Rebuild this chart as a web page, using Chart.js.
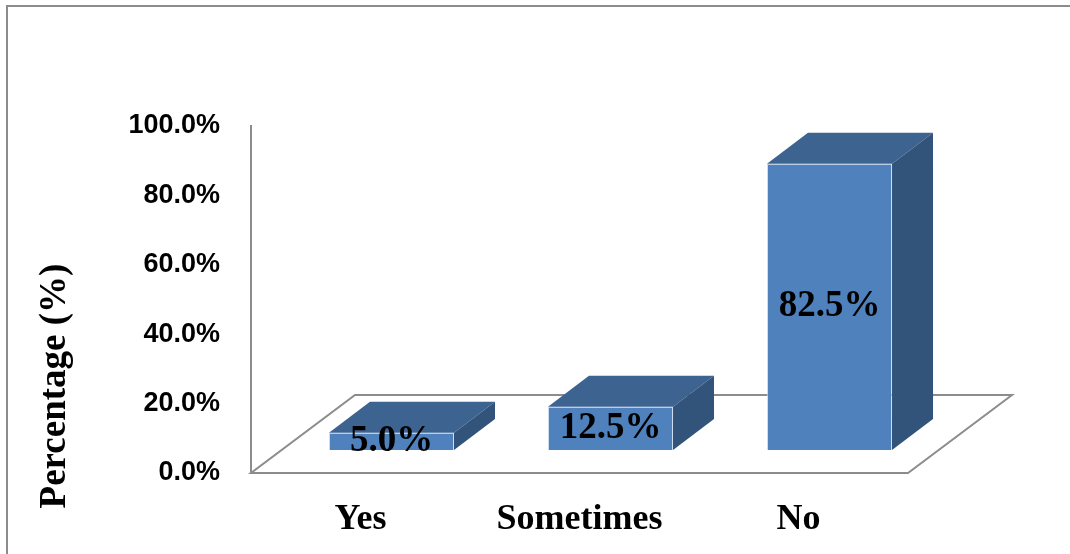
<!DOCTYPE html>
<html>
<head>
<meta charset="utf-8">
<script src="https://cdn.jsdelivr.net/npm/chart.js@4.4.1/dist/chart.umd.min.js"></script>
<style>
  html, body { margin: 0; padding: 0; background: #fff; overflow: hidden; }
  #wrap { position: relative; width: 1070px; height: 554px; }
</style>
</head>
<body>
<div id="wrap"><canvas id="answers-chart"></canvas></div>
<script>
// Survey answers
const categories = ["Yes", "Sometimes", "No"];
const percentages = [5.0, 12.5, 82.5];
const yTickValues = [0, 20, 40, 60, 80, 100];

// Colours for the three faces of each box
const frontColor = "#4F81BD";
const topColor = "#3D6390";
const sideColor = "#32547A";
const lineGray = "#8c8c8c";

// Fake 3D offsets (floor depth, bar position on the floor, bar depth)
const floorDepth = { dx: 104, dy: -78 };
const barShift = { dx: 31, dy: -23 };
const barDepth = { dx: 41, dy: -31 };

const serifBold = { family: "'Liberation Serif', 'Times New Roman', serif", weight: "bold" };

const box3d = {
  id: "box3d",
  beforeDraw(chart) {
    // outer frame, only top and left edges show
    const ctx = chart.ctx;
    ctx.save();
    ctx.strokeStyle = lineGray;
    ctx.lineWidth = 2;
    ctx.beginPath();
    ctx.moveTo(7, chart.height);
    ctx.lineTo(7, 6);
    ctx.lineTo(chart.width, 6);
    ctx.stroke();
    ctx.restore();
  },
  beforeDatasetsDraw(chart) {
    // floor parallelogram
    const { ctx, chartArea } = chart;
    const L = chartArea.left, R = chartArea.right, B = chartArea.bottom;
    ctx.save();
    ctx.strokeStyle = lineGray;
    ctx.lineWidth = 2;
    ctx.beginPath();
    ctx.moveTo(L, B);
    ctx.lineTo(R, B);
    ctx.lineTo(R + floorDepth.dx, B + floorDepth.dy);
    ctx.lineTo(L + floorDepth.dx, B + floorDepth.dy);
    ctx.closePath();
    ctx.stroke();
    ctx.restore();
  },
  beforeDatasetDraw(chart) {
    // push the front faces back onto the middle of the floor
    chart.ctx.save();
    chart.ctx.translate(barShift.dx, barShift.dy);
  },
  afterDatasetDraw(chart, args) {
    const ctx = chart.ctx;
    args.meta.data.forEach((bar) => {
      const { x, y, base, width } = bar.getProps(["x", "y", "base", "width"], true);
      const l = x - width / 2, r = x + width / 2;
      // top face
      ctx.fillStyle = topColor;
      ctx.beginPath();
      ctx.moveTo(l, y);
      ctx.lineTo(r, y);
      ctx.lineTo(r + barDepth.dx, y + barDepth.dy);
      ctx.lineTo(l + barDepth.dx, y + barDepth.dy);
      ctx.closePath();
      ctx.fill();
      // right side face
      ctx.fillStyle = sideColor;
      ctx.beginPath();
      ctx.moveTo(r, y);
      ctx.lineTo(r + barDepth.dx, y + barDepth.dy);
      ctx.lineTo(r + barDepth.dx, base + barDepth.dy);
      ctx.lineTo(r, base);
      ctx.closePath();
      ctx.fill();
    });
    ctx.restore();
  },
  afterDatasetsDraw(chart) {
    // value labels in the middle of each front face
    const ctx = chart.ctx;
    const meta = chart.getDatasetMeta(0);
    ctx.save();
    ctx.fillStyle = "#000";
    ctx.font = "bold 37px " + serifBold.family;
    ctx.textAlign = "center";
    ctx.textBaseline = "middle";
    meta.data.forEach((bar, i) => {
      const { x, y, base } = bar.getProps(["x", "y", "base"], true);
      ctx.fillText(percentages[i].toFixed(1) + "%", x + barShift.dx, (y + base) / 2 + barShift.dy);
    });
    ctx.restore();
  },
  afterDraw(chart) {
    // y axis title
    const ctx = chart.ctx;
    ctx.save();
    ctx.translate(55, 386);
    ctx.rotate(-Math.PI / 2);
    ctx.fillStyle = "#000";
    ctx.font = "bold 37px " + serifBold.family;
    ctx.textAlign = "center";
    ctx.textBaseline = "middle";
    ctx.fillText("Percentage (%)", 0, 0);
    ctx.restore();
  },
};

new Chart(document.getElementById("answers-chart"), {
  type: "bar",
  data: {
    labels: categories,
    datasets: [
      {
        data: percentages,
        backgroundColor: frontColor,
        borderColor: "rgba(190, 210, 235, 0.7)",
        borderWidth: 1,
        barPercentage: 0.571,
        categoryPercentage: 1,
        clip: false,
      },
    ],
  },
  options: {
    responsive: true,
    maintainAspectRatio: false,
    animation: false,
    layout: { padding: { top: 126, right: 162, bottom: 0, left: 0 } },
    plugins: { legend: { display: false }, tooltip: { enabled: false } },
    scales: {
      x: {
        grid: { display: false, drawTicks: false },
        border: { display: false },
        ticks: { color: "#000", font: { ...serifBold, size: 36 }, padding: 25 },
        afterFit(scale) { scale.height = 81; },
      },
      y: {
        min: 0,
        max: 100,
        afterBuildTicks(scale) { scale.ticks = yTickValues.map((v) => ({ value: v })); },
        grid: { display: false, drawTicks: false },
        border: { display: true, color: lineGray, width: 2 },
        ticks: {
          color: "#000",
          padding: 31,
          font: { family: "'Liberation Sans', Arial, sans-serif", size: 27, weight: "bold" },
          callback: (v) => v.toFixed(1) + "%",
        },
        afterFit(scale) { scale.width = 251; },
      },
    },
  },
  plugins: [box3d],
});
</script>
</body>
</html>
